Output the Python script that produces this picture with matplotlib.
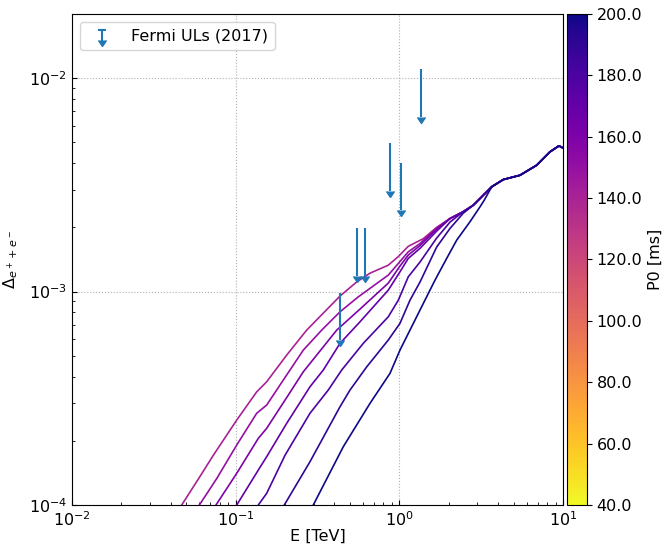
import numpy as np
import matplotlib
matplotlib.use("Agg")
import matplotlib.pyplot as plt
from matplotlib import cm
from matplotlib.colors import Normalize
from matplotlib.lines import Line2D
from matplotlib.markers import CARETDOWNBASE
from matplotlib.legend_handler import HandlerBase
from matplotlib.container import ErrorbarContainer

plt.rcParams['font.size'] = 11.5

# P0 values of the curves [ms]
p0_values = [140, 150, 160, 170, 180, 190, 200]

# shared high-energy part (all curves merge here)
tail_E = [2.04, 2.46, 2.83, 3.26, 3.67, 4.32, 5.46, 6.90, 8.33, 9.45, 9.96]
tail_y = [2.20e-3, 2.37e-3, 2.54e-3, 2.83e-3, 3.10e-3, 3.35e-3, 3.51e-3,
          3.91e-3, 4.52e-3, 4.82e-3, 4.72e-3]

# low-energy parts, one per P0
E_140 = [0.0468, 0.0605, 0.0730, 0.1015, 0.1344, 0.1547, 0.205, 0.2716,
         0.434, 0.549, 0.662, 0.856, 0.986, 1.134, 1.40, 1.69]
y_140 = [1.0e-4, 1.36e-4, 1.71e-4, 2.50e-4, 3.39e-4, 3.78e-4, 5.04e-4, 6.60e-4,
         9.53e-4, 1.11e-3, 1.22e-3, 1.33e-3, 1.46e-3, 1.63e-3, 1.77e-3, 2.00e-3]

E_150 = [0.0600, 0.0766, 0.1015, 0.1344, 0.1547, 0.1954, 0.259, 0.3355,
         0.434, 0.5615, 0.856, 0.986, 1.134, 1.337, 1.69]
y_150 = [1.0e-4, 1.33e-4, 1.91e-4, 2.69e-4, 2.94e-4, 3.85e-4, 5.32e-4, 6.60e-4,
         8.04e-4, 9.45e-4, 1.195e-3, 1.355e-3, 1.536e-3, 1.68e-3, 1.98e-3]

E_160 = [0.0758, 0.1015, 0.1375, 0.1547, 0.2002, 0.259, 0.4143, 0.575,
         0.856, 1.009, 1.134, 1.337, 1.69]
y_160 = [1.0e-4, 1.408e-4, 2.053e-4, 2.287e-4, 3.10e-4, 4.21e-4, 6.60e-4,
         8.28e-4, 1.096e-3, 1.317e-3, 1.483e-3, 1.643e-3, 1.962e-3]

E_170 = [0.1015, 0.1375, 0.1547, 0.205, 0.2844, 0.343, 0.434, 0.575,
         0.856, 1.009, 1.134, 1.337, 1.69]
y_170 = [1.0e-4, 1.458e-4, 1.684e-4, 2.414e-4, 3.58e-4, 4.29e-4, 5.72e-4,
         7.22e-4, 1.016e-3, 1.238e-3, 1.431e-3, 1.594e-3, 1.920e-3]

E_180 = [0.1375, 0.1547, 0.2002, 0.2844, 0.368, 0.4444, 0.602, 0.856,
         0.986, 1.134, 1.337, 1.69, 2.04]
y_180 = [1.0e-4, 1.134e-4, 1.71e-4, 2.69e-4, 3.457e-4, 4.29e-4, 5.72e-4,
         7.62e-4, 9.12e-4, 1.173e-3, 1.375e-3, 1.781e-3, 2.117e-3]

E_190 = [0.1982, 0.2844, 0.434, 0.4995, 0.632, 0.856, 1.009, 1.162,
         1.337, 1.69, 2.04, 2.46]
y_190 = [1.0e-4, 1.595e-4, 2.887e-4, 3.457e-4, 4.44e-4, 5.93e-4, 7.10e-4,
         9.12e-4, 1.108e-3, 1.616e-3, 1.977e-3, 2.332e-3]

E_200 = [0.298, 0.4546, 0.662, 0.877, 1.009, 1.337, 1.652, 1.947, 2.242,
         2.70, 3.11, 3.30]
y_200 = [1.0e-4, 1.876e-4, 2.995e-4, 4.14e-4, 5.32e-4, 8.19e-4, 1.132e-3,
         1.431e-3, 1.743e-3, 2.123e-3, 2.495e-3, 2.68e-3]

heads = [(E_140, y_140), (E_150, y_150), (E_160, y_160), (E_170, y_170),
         (E_180, y_180), (E_190, y_190), (E_200, y_200)]

# Fermi upper limits
fermi_E = [0.434, 0.551, 0.617, 0.877, 1.024, 1.357]
fermi_ul = [9.9e-4, 1.98e-3, 1.98e-3, 4.96e-3, 4.0e-3, 1.10e-2]


class ULHandler(HandlerBase):
    # legend icon: cap on top, down arrow at the bottom
    def create_artists(self, legend, orig_handle, xdescent, ydescent,
                       width, height, fontsize, trans):
        c = '#1f77b4'
        cx = 0.5 * width - xdescent
        y0 = 0.5 * height - ydescent
        h = 0.45 * height
        stem = Line2D([cx, cx], [y0 - h, y0 + h], color=c, lw=1.5)
        top = Line2D([cx], [y0 + h], marker='_', ms=6, mew=1.5, color=c)
        bot = Line2D([cx], [y0 - h], marker=CARETDOWNBASE, ms=6, color=c)
        for a in (stem, top, bot):
            a.set_transform(trans)
        return [stem, top, bot]


fig = plt.figure(figsize=(6.65, 5.46), dpi=100)
ax = fig.add_axes([0.1083, 0.0751, 0.7383, 0.8993])
cax = fig.add_axes([0.8526, 0.0751, 0.0301, 0.8993])

cmap = cm.plasma_r
norm = Normalize(vmin=40, vmax=200)

for p0, (E, y) in zip(p0_values, heads):
    last = E[-1]
    EE = list(E) + [e for e in tail_E if e > last]
    yy = list(y) + [v for e, v in zip(tail_E, tail_y) if e > last]
    ax.plot(EE, yy, color=cmap(norm(p0)), lw=1.2)

fermi_ul = np.array(fermi_ul)
ax.errorbar(fermi_E, fermi_ul, yerr=0.4 * fermi_ul, uplims=True, ls='none',
            color='#1f77b4', label='Fermi ULs (2017)')

ax.set_xscale('log')
ax.set_yscale('log')
ax.set_xlim(1e-2, 1e1)
ax.set_ylim(1e-4, 2e-2)
ax.set_xlabel('E [TeV]', labelpad=0)
ax.set_ylabel(r'$\Delta_{e^+ + e^-}$', labelpad=6)
ax.tick_params(which='both', direction='in')
ax.tick_params(axis='x', pad=4)
ax.grid(True, which='major', ls=':', color='#b0b0b0')
ax.legend(loc='upper left', handler_map={ErrorbarContainer: ULHandler()})

sm = cm.ScalarMappable(cmap=cmap, norm=norm)
cb = fig.colorbar(sm, cax=cax, ticks=np.arange(40, 201, 20), format='%.1f')
cb.set_label('P0 [ms]')

fig.savefig('out.png', dpi=100)
